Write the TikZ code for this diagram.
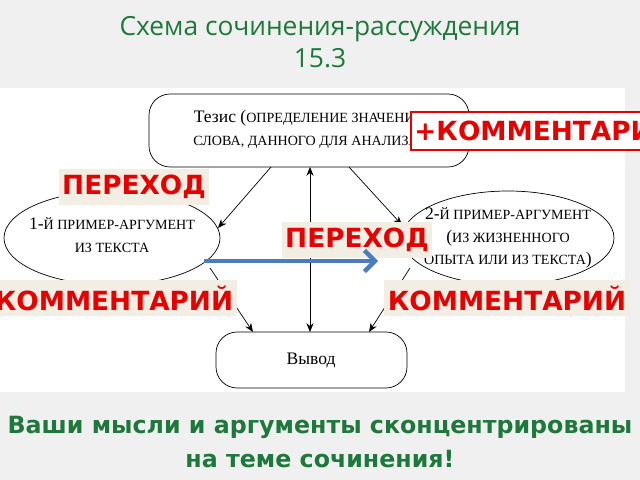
\documentclass[tikz,border=0pt]{standalone}
\usepackage{fontspec}
\setmainfont{Liberation Serif}
\newfontfamily\labelfont{DejaVu Sans}
\newfontfamily\titlefont{Open Sans}
\usetikzlibrary{arrows.meta}
\definecolor{titlegreen}{RGB}{30,120,60}
\definecolor{notered}{RGB}{230,0,0}
\definecolor{notebg}{RGB}{242,238,228}
\definecolor{flowblue}{RGB}{74,124,192}
\definecolor{pagebg}{RGB}{240,240,240}
\tikzset{
    stage/.style={draw=black,rounded corners=12pt,thin},
    link/.style={-{Stealth[length=5pt,width=4pt]},thin},
    note/.style={fill=notebg,text=notered,font=\labelfont\bfseries\fontsize{15}{18}\selectfont,inner sep=2pt}
}
\newcommand{\caps}[1]{{\fontsize{8}{10}\selectfont #1}}
\begin{document}
\begin{tikzpicture}[x=0.02cm,y=-0.02cm]
                    \useasboundingbox (0,0) rectangle (640,480);
                    \fill[pagebg] (0,0) rectangle (640,480);
                    \fill[white] (0,88) rectangle (625,392);
                    % title
                    \node[text=titlegreen,font=\titlefont\fontsize{15}{18}\selectfont,align=center] (title) at (320,42) {Схема сочинения-рассуждения\\15.3};

                    % stages
                    \draw[stage] (149,94) rectangle (469,167);
                    \node[font=\fontsize{10}{13}\selectfont,align=center] (thesis) at (309,130) {Тезис (\caps{ОПРЕДЕЛЕНИЕ ЗНАЧЕНИЯ}\\\caps{СЛОВА, ДАННОГО ДЛЯ АНАЛИЗА})};
                    \coordinate (thesisBL) at (271,167);
                    \coordinate (thesisBR) at (349,167);
                    \coordinate (thesisB) at (310,167);
                    \draw[stage] (216,332) rectangle (407,388);
                    \node[font=\fontsize{10}{13}\selectfont] (result) at (311,360) {Вывод};
                    \coordinate (resultT) at (310,332);
                    \coordinate (resultL) at (253,332);
                    \coordinate (resultR) at (369,332);

                    \draw[thin] (112,238) ellipse [x radius=108,y radius=47];
                    \draw[thin] (508,238) ellipse [x radius=106,y radius=47];
                    \node[font=\fontsize{10}{13}\selectfont,align=center] (arg1) at (112,235) {1-\caps{Й ПРИМЕР-АРГУМЕНТ}\\\caps{ИЗ ТЕКСТА}};
                    \node[font=\fontsize{10}{13}\selectfont,align=center] (arg2) at (508,238) {2-\caps{Й ПРИМЕР-АРГУМЕНТ}\\(\caps{ИЗ ЖИЗНЕННОГО}\\\caps{ОПЫТА ИЛИ ИЗ ТЕКСТА})};
                    \coordinate (arg1in) at (218,228);
                    \coordinate (arg2in) at (402,225);
                    \coordinate (arg1out) at (210,268);
                    \coordinate (arg2out) at (410,268);

                    % edges
                    \draw[link] (thesisBL) -- (arg1in);
                    \draw[link] (thesisBR) -- (arg2in);
                    \draw[{Stealth[length=5pt,width=4pt]}-{Stealth[length=5pt,width=4pt]},thin] (thesisB) -- (resultT);
                    \draw[link] (arg1out) -- (resultL);
                    \draw[link] (arg2out) -- (resultR);

                    % notes
                    \node[note,minimum width=83pt,minimum height=20pt] (step1) at (134,187) {ПЕРЕХОД};
                    \node[note,minimum width=80pt,minimum height=20pt] (step2) at (357,240) {ПЕРЕХОД};
                    \coordinate (flowA) at (204,261);
                    \coordinate (flowB) at (378,261);
                    \draw[flowblue,line width=2.5pt,-{Straight Barb[length=6pt,width=12pt]}] (flowA) -- (flowB);
                    \node[note,minimum width=130pt,minimum height=20pt] (comment1) at (114,298) {КОММЕНТАРИЙ};
                    \node[note,minimum width=133pt,minimum height=20pt] (comment2) at (507,298) {КОММЕНТАРИЙ};
                    \node[note,fill=white,draw=notered,line width=1pt,minimum height=22pt,anchor=west] (comment0) at (410,131) {+КОММЕНТАРИИ};

                    % bottom line
                    \node[text=titlegreen,font=\labelfont\bfseries\fontsize{13.5}{19}\selectfont,align=center] (summary) at (320,442) {Ваши мысли и аргументы сконцентрированы\\на теме сочинения!};
                \end{tikzpicture}
\end{document}
